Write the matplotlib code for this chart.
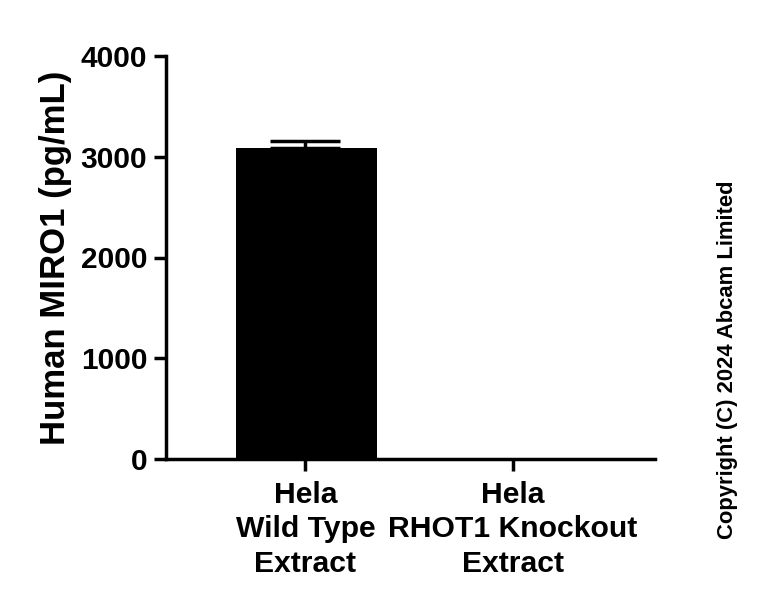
import matplotlib
matplotlib.use("Agg")
import matplotlib.pyplot as plt

categories = ["Hela\nWild Type\nExtract", "Hela\nRHOT1 Knockout\nExtract"]
values = [3087, 0]
errors_upper = [70, 0]
yticks = [0, 1000, 2000, 3000, 4000]

plt.rcParams['font.family'] = ['Liberation Sans', 'DejaVu Sans']
plt.rcParams['font.weight'] = 'bold'

fig = plt.figure(figsize=(7.68, 6.03), dpi=100)
ax = fig.add_axes([166/768, 1-459/603, (655-166)/768, (459-56)/603])

x = list(range(len(categories)))
ax.bar([p + 0.005 for p in x], values, width=0.675, color='black', linewidth=0, zorder=2)
ax.errorbar(x[:1], values[:1], yerr=[[0], errors_upper[:1]], fmt='none',
            ecolor='black', elinewidth=2.5, capsize=25, capthick=2.5, zorder=3)

ax.set_xlim(-0.672, 1.684)
ax.set_ylim(0, 4000)
ax.set_yticks(yticks)
ax.set_yticklabels([str(t) for t in yticks])
ax.set_xticks(x)
ax.set_xticklabels(categories, linespacing=1.3)

for s in ['top', 'right']:
    ax.spines[s].set_visible(False)
for s in ['left', 'bottom']:
    ax.spines[s].set_linewidth(2.5)

ax.tick_params(axis='both', width=2.5, length=8.5)
ax.tick_params(axis='y', pad=5, labelsize=21.5)
ax.tick_params(axis='x', pad=7, labelsize=21.7)
for lab in ax.get_xticklabels() + ax.get_yticklabels():
    lab.set_fontweight('bold')

ax.set_ylabel("Human MIRO1 (pg/mL)", fontsize=25, fontweight='bold', labelpad=6)

fig.text(727/768, 1-360/603, "Copyright (C) 2024 Abcam Limited", rotation=90,
         ha='center', va='center', fontsize=15.8, fontweight='bold')

fig.savefig("out.png", dpi=100)
